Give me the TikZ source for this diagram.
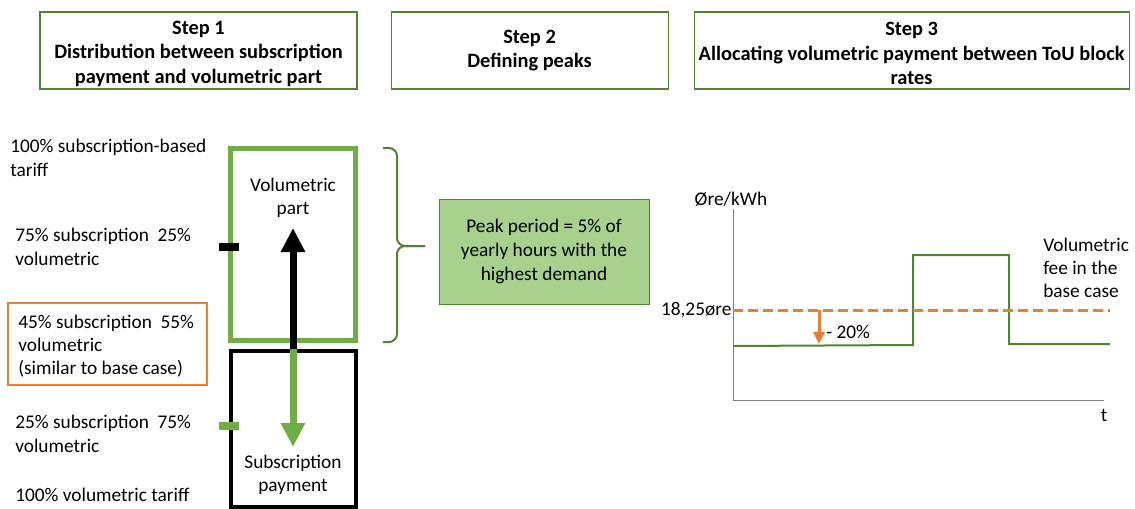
\documentclass[tikz,border=0pt]{standalone}
\usepackage{fontspec}
\setmainfont{Carlito}
\usetikzlibrary{arrows.meta, positioning}
\definecolor{hdrgreen}{RGB}{84,130,53}
\definecolor{volgreen}{RGB}{112,173,71}
\definecolor{peakfill}{RGB}{169,209,142}
\definecolor{baseorange}{RGB}{237,125,49}
\tikzset{
  header/.style={draw=hdrgreen, line width=0.8pt, minimum height=57.75pt,
      align=center, inner sep=0pt, font=\bfseries\fontsize{15.3}{18.4}\selectfont},
  share/.style={anchor=west, align=left, inner sep=0pt}, % left hand labels
  part/.style={minimum width=93.75pt, inner sep=0pt}, % the two stacked boxes
}
\begin{document}
\begin{tikzpicture}[x=0.75pt, y=-0.75pt, font=\fontsize{14.5}{17.5}\selectfont]
    \useasboundingbox (0,0) rectangle (1135,508);

    % step headers
    \node[header, minimum width=237.75pt] (step1) at (198.5,50.5)
        {\rule{0pt}{15pt}Step 1\\Distribution between subscription\\payment and volumetric part};
    \node[header, minimum width=207.75pt, right=24.75pt of step1] (step2)
        {Step 2\\Defining peaks};
    \node[header, minimum width=326.25pt, right=18.75pt of step2] (step3)
        {\rule{0pt}{15pt}Step 3\\Allocating volumetric payment between ToU block\\rates};

    % shares of the tariff
    \node[share] (sub100) at (10,158) {100\% subscription-based\\tariff};
    \node[share] (sub75) at (15,247) {75\% subscription\ \ 25\%\\volumetric};
    \node[share] (sub45) at (18,346) {45\% subscription\ \ 55\%\\volumetric\\(similar to base case)};
    \node[draw=baseorange, line width=1.5pt, minimum width=149.25pt, minimum height=61.5pt]
        (basecase) at (107.5,344) {};
    \node[share] (sub25) at (15,434) {25\% subscription\ \ 75\%\\volumetric};
    \node[share] (vol100) at (15,495) {100\% volumetric tariff};

    % volumetric part and subscription payment
    \node[part, draw=volgreen, line width=3.5pt, minimum height=144pt] (volpart) at (293,244.5) {};
    \node[part, draw=black, line width=3pt, minimum height=117pt] (subpart) at (293,429) {};
    \node (voltext) at (293,198) [align=center] {Volumetric\\part};
    \node (subtext) at (293,475) [align=center] {Subscription\\payment};
    \coordinate (voltip) at (293,228);
    \coordinate (subtip) at (293,447);
    \draw[line width=5.25pt, -{Triangle[width=17.25pt, length=18pt]}] (subpart.north) -- (voltip);
    \draw[volgreen, line width=5.25pt, -{Triangle[width=17.25pt, length=18pt]}] (subpart.north) -- (subtip);
    \draw[line width=5.5pt] (219,247) -- (239,247);
    \draw[volgreen, line width=5.5pt] (219,426) -- (239,426);

    % brace and peak definition
    \draw[hdrgreen, line width=1.5pt, rounded corners=6pt]
        (383,148) -- (397,148) -- (397,246) -- (425,246);
    \draw[hdrgreen, line width=1.5pt, rounded corners=6pt]
        (383,342) -- (397,342) -- (397,246) -- (425,246);
    \node[draw=hdrgreen, fill=peakfill, minimum width=157.5pt, minimum height=78.75pt,
        align=center, font=\fontsize{14.5}{18}\selectfont] (peak) at (544,251.5)
        {Peak period = 5\% of\\yearly hours with the\\highest demand};

    % ToU price profile
    \coordinate (origin) at (733,400);
    \coordinate (ytop) at (733,209);
    \coordinate (xend) at (1104,400);
    \draw[gray, line width=0.6pt] (ytop) -- (origin) -- (xend);
    \node (yunit) at (731,199) {Øre/kWh};
    \node (tlabel) at (1104,415) {t};
    \draw[hdrgreen, line width=1.5pt] (733,346) -- (913,345) -- (913,255) -- (1009,255)
        -- (1009,344) -- (1110,344);
    \coordinate (basel) at (733,310);
    \coordinate (baser) at (1110,310);
    \draw[baseorange, line width=2.25pt, dash pattern=on 7.5pt off 3.75pt] (basel) -- (baser);
    \node[anchor=east, inner sep=1pt] (baseval) at (basel) {18,25øre};
    \coordinate (cutfrom) at (819,310);
    \coordinate (cutto) at (819,344);
    \draw[baseorange, line width=2.25pt, -{Triangle[width=8.25pt, length=9pt]}] (cutfrom) -- (cutto);
    \node[share] (cut) at (826,332) {- 20\%};
    \node[share] (basefee) at (1043,268) {Volumetric\\fee in the\\base case};
\end{tikzpicture}
\end{document}
